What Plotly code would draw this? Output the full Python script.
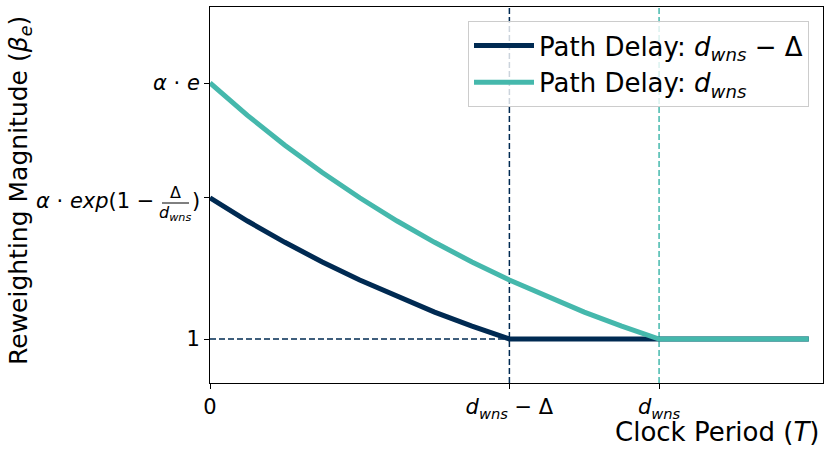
import plotly.graph_objects as go

# ---- data (units: d_wns = 3, delta = 1, alpha = 1) ----
period_teal = [0.0, 0.25, 0.5, 0.75, 1.0, 1.25, 1.5, 1.75, 2.0, 2.25, 2.5, 2.75, 3.0, 4.0]
beta_teal = [2.718, 2.501, 2.301, 2.117, 1.948, 1.792, 1.649, 1.517, 1.396, 1.284, 1.181, 1.087, 1.0, 1.0]

period_dark = [0.0, 0.25, 0.5, 0.75, 1.0, 1.25, 1.5, 1.75, 2.0, 4.0]
beta_dark = [1.948, 1.792, 1.649, 1.517, 1.396, 1.284, 1.181, 1.087, 1.0, 1.0]

d_wns = 3.0
d_wns_minus_delta = 2.0
beta_one = 1.0
beta_mid = 1.948
beta_top = 2.718

x_tick_vals = [0.0, d_wns_minus_delta, d_wns]
x_tick_text = ["0", "<i>d</i><sub><i>wns</i></sub> − Δ", "<i>d</i><sub><i>wns</i></sub>"]
y_tick_vals = [beta_one, beta_mid, beta_top]
y_tick_text = ["1", "", "<i>α</i> · <i>e</i>"]

legend_dark = "Path Delay: <i>d</i><sub><i>wns</i></sub> − Δ"
legend_teal = "Path Delay: <i>d</i><sub><i>wns</i></sub>"

DARK = "#002a52"
TEAL = "#45b8ac"
FONT = "DejaVu Sans"

# plot-area geometry in pixels (for converting to paper coords)
L, R, T, B = 210, 823, 7, 383
W, H = R - L, B - T
def px(xp):
    return (xp - L) / W
def py(yp):
    return (B - yp) / H

fig = go.Figure()

# guide lines
fig.add_trace(go.Scatter(x=[0.0, d_wns_minus_delta], y=[beta_one, beta_one], mode="lines",
                         line=dict(color=DARK, width=1.5, dash="6px,3px"),
                         showlegend=False, hoverinfo="skip"))
fig.add_vline(x=d_wns_minus_delta, line=dict(color=DARK, width=1.5, dash="6px,3px"), layer="below")
fig.add_vline(x=d_wns, line=dict(color=TEAL, width=1.5, dash="6px,3px"), layer="below")

fig.add_trace(go.Scatter(x=period_dark, y=beta_dark, mode="lines", name=legend_dark,
                         line=dict(color=DARK, width=5)))
fig.add_trace(go.Scatter(x=period_teal, y=beta_teal, mode="lines", name=legend_teal,
                         line=dict(color=TEAL, width=5)))

axis_common = dict(showgrid=False, zeroline=False, showline=True, linecolor="black",
                   linewidth=1, mirror=True, ticks="outside", ticklen=5, tickwidth=1,
                   tickcolor="black", automargin=False,
                   tickfont=dict(family=FONT, size=21, color="black"))

fig.update_xaxes(range=[0, 4.095], tickvals=x_tick_vals, ticktext=x_tick_text, **axis_common)
fig.update_yaxes(range=[0.705, 3.228], tickvals=y_tick_vals, ticktext=y_tick_text, **axis_common)

annotations = [
    # y tick label with fraction: alpha * exp(1 - delta / d_wns)
    dict(x=px(156), y=beta_mid, xref="paper", yref="y", xanchor="right", yanchor="middle",
         yshift=-3, text="<i>α</i> · <i>exp</i>(1 −", showarrow=False,
         font=dict(family=FONT, size=21, color="black")),
    dict(x=px(175), y=beta_mid, xref="paper", yref="y", xanchor="center", yanchor="middle",
         yshift=5, text="Δ", showarrow=False, font=dict(family=FONT, size=16, color="black")),
    dict(x=px(175), y=beta_mid, xref="paper", yref="y", xanchor="center", yanchor="middle",
         yshift=-16, text="<i>d</i><sub><i>wns</i></sub>", showarrow=False,
         font=dict(family=FONT, size=16, color="black")),
    dict(x=px(190), y=beta_mid, xref="paper", yref="y", xanchor="left", yanchor="middle",
         yshift=-3, text=")", showarrow=False, font=dict(family=FONT, size=21, color="black")),
    # axis titles
    dict(x=px(20), y=py(191), xref="paper", yref="paper", xanchor="center", yanchor="middle",
         textangle=-90, text="Reweighting Magnitude (<i>β</i><sub><i>e</i></sub>)", showarrow=False,
         font=dict(family=FONT, size=25, color="black")),
    dict(x=px(821), y=py(432), xref="paper", yref="paper", xanchor="right", yanchor="middle",
         text="Clock Period (<i>T</i>)", showarrow=False,
         font=dict(family=FONT, size=26, color="black")),
]

fig.add_shape(type="line", xref="paper", yref="paper", x0=px(162), x1=px(189),
              y0=py(203), y1=py(203), line=dict(color="black", width=1))

fig.update_layout(
    width=831, height=452,
    margin=dict(l=L, r=831 - R, t=T, b=452 - B, pad=0, autoexpand=False),
    paper_bgcolor="white", plot_bgcolor="white",
    font=dict(family=FONT, color="black"),
    annotations=annotations,
    legend=dict(x=px(809), y=py(21), xanchor="right", yanchor="top",
                bgcolor="rgba(255,255,255,0.8)", bordercolor="#cccccc", borderwidth=1,
                itemwidth=60,
                font=dict(family=FONT, size=26, color="black"), tracegroupgap=0),
)

fig.write_html("out.html", config={"displayModeBar": False})

# remove the browser's default page margin so the figure starts at the window's corner
with open("out.html", "r", encoding="utf-8") as f:
    html = f.read()
html = html.replace("<head>", "<head><style>html,body{margin:0;padding:0;overflow:hidden;}</style>", 1)
with open("out.html", "w", encoding="utf-8") as f:
    f.write(html)
